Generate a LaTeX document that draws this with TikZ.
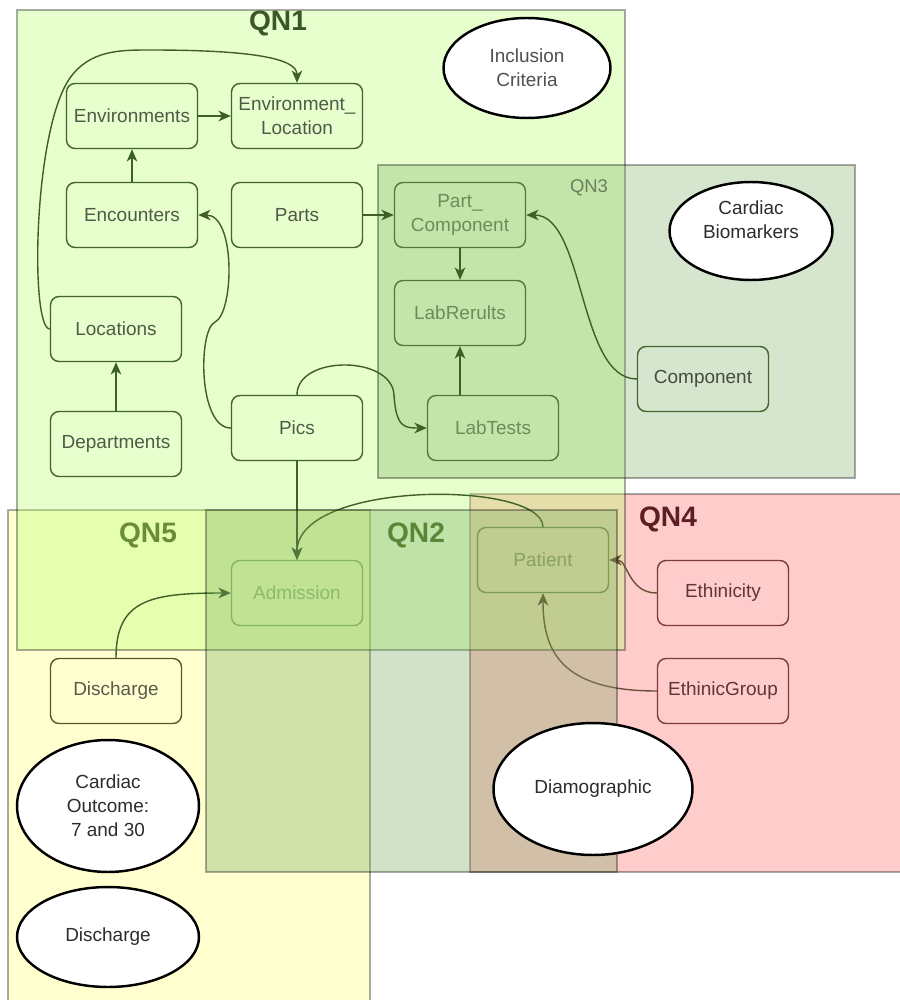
\documentclass[tikz,border=0pt]{standalone}
\usepackage{fontspec}
\setmainfont{Liberation Sans}
\usetikzlibrary{arrows.meta,shapes.geometric}

% zone fills
\definecolor{qnfivefill}{RGB}{255,255,208}
\definecolor{qnfourfill}{RGB}{255,204,204}
\definecolor{qnonefill}{RGB}{187,255,117}
\definecolor{qngreen}{RGB}{118,168,92}
% boxes, text and links
\definecolor{boxline}{RGB}{65,100,45}
\definecolor{boxtext}{RGB}{80,90,72}
\definecolor{softtext}{RGB}{105,128,92}
\definecolor{edgecol}{RGB}{62,96,40}
\definecolor{ethedge}{RGB}{105,82,52}
\definecolor{redline}{RGB}{125,58,58}
\definecolor{redtext}{RGB}{95,55,55}
\definecolor{yelline}{RGB}{88,88,38}
\definecolor{yeltext}{RGB}{90,90,78}
\definecolor{admline}{RGB}{140,188,105}
\definecolor{admtext}{RGB}{150,196,118}
\definecolor{patline}{RGB}{128,150,78}
\definecolor{pattext}{RGB}{145,160,100}
\definecolor{ovaltext}{RGB}{45,45,45}

\tikzset{
  zone/.style={draw=black, draw opacity=0.33, line width=1.3pt},
  box/.style={draw=boxline, line width=0.8pt, rounded corners=0.17cm,
    minimum width=2.62cm, minimum height=1.3cm, align=center, text=boxtext,
    font=\fontsize{10.8}{13.6}\selectfont, inner sep=1pt},
  oval/.style={ellipse, draw=black, line width=1.4pt, fill=white, align=center,
    text=ovaltext, font=\fontsize{10.8}{13.6}\selectfont, inner sep=0pt},
  link/.style={draw=edgecol, line width=0.8pt,
    -{Stealth[length=7pt,width=6pt,inset=2pt]}},
  zonelabel/.style={font=\fontsize{16}{18}\selectfont\bfseries, inner sep=0pt},
}

\begin{document}
\begin{tikzpicture}[x=0.02cm,y=-0.02cm]
\useasboundingbox (0,0) rectangle (899,1000);

% ---- opaque zones underneath
\path[zone, fill=qnfivefill] (8,510) rectangle (370,1010);
\path[zone, fill=qnfourfill] (470,494) rectangle (910,872);

% ---- QN1 zone
\path[zone, fill=qnonefill, fill opacity=0.37] (17,10) rectangle (625,650);

% ---- tables of QN1
\node[box] (env)    at (132,116) {Environments};
\node[box] (envloc) at (297,116) {Environment\_\\Location};
\node[box] (enc)    at (132,215) {Encounters};
\node[box] (parts)  at (297,215) {Parts};
\node[box] (loc)    at (116,329) {Locations};
\node[box] (dep)    at (116,444) {Departments};
\node[box] (pics)   at (297,428) {Pics};

% ---- tables of QN3 lying under the zone
\node[box, text=softtext] (pc) at (460,215) {Part\_\\Component};
\node[box, text=softtext] (lr) at (460,313) {LabRerults};
\node[box, text=softtext] (lt) at (493,428) {LabTests};

% ---- QN3 zone
\path[zone, fill=qngreen, fill opacity=0.3] (378,165) rectangle (855,478);
\node[font=\fontsize{10.5}{12}\selectfont, text=softtext] (qnthree) at (589,188) {QN3};
\node[box, text={rgb,255:red,70;green,76;blue,64}] (comp) at (703,379) {Component};

% ---- links of QN1 / QN3
\draw[link] (env) -- (envloc);
\draw[link] (enc) -- (env);
\draw[link] (parts) -- (pc);
\draw[link] (dep) -- (loc);
\draw[link] (pc) -- (lr);
\draw[link] (lt.north -| lr.south) -- (lr);
\draw[link] (loc.west) .. controls (30,329) and (33,130) .. (70,78)
  .. controls (90,50) and (120,50) .. (150,50)
  .. controls (250,50) and (297,58) .. (envloc.north);
\draw[link] (pics.west) .. controls (198,428) and (198,330) .. (215,322)
  .. controls (234,313) and (236,215) .. (enc.east);
\draw[link] (pics.north) .. controls (297,355) and (392,355) .. (394,395)
  .. controls (396,428) and (405,428) .. (lt.west);
\draw[link] (comp.west) .. controls (578,379) and (585,215) .. (pc.east);

% ---- tables of QN2, QN4, QN5
\node[box, draw=admline, text=admtext] (adm) at (297,593) {Admission};
\node[box, draw=patline, text=pattext] (pat) at (543,560) {Patient};
\node[box, draw=redline, text=redtext] (eth) at (723,593) {Ethinicity};
\node[box, draw=redline, text=redtext] (eg)  at (723,691) {EthinicGroup};
\node[box, draw=yelline, text=yeltext] (dis) at (116,691) {Discharge};

\draw[link] (pics) -- (adm);
\draw[link] (pat.north) .. controls (542,480) and (297,480) .. (adm.north);
\draw[link] (dis.north) .. controls (116,600) and (150,593) .. (adm.west);
\draw[link, draw=ethedge] (eth.west) .. controls (628,593) and (628,560) .. (pat.east);
\draw[link, draw=ethedge] (eg.west) .. controls (560,691) and (543,650) .. (pat.south);

% ---- QN2 zone on top
\path[zone, fill=qngreen, fill opacity=0.33] (206,510) rectangle (617,872);

% ---- zone titles
\node[zonelabel, text={rgb,255:red,58;green,88;blue,38}] (qnone) at (278,23) {QN1};
\node[zonelabel, text={rgb,255:red,104;green,140;blue,56}] (qnfive) at (148,535) {QN5};
\node[zonelabel, text={rgb,255:red,90;green,134;blue,56}] (qntwo) at (416,535) {QN2};
\node[zonelabel, text={rgb,255:red,92;green,30;blue,32}] (qnfour) at (668,519) {QN4};

% ---- criteria ovals
\node[oval, minimum width=3.34cm, minimum height=2.0cm, text={rgb,255:red,80;green,80;blue,80}]
  (incl) at (527,68) {Inclusion\\Criteria};
\node[oval, minimum width=3.26cm, minimum height=1.96cm,
  label={[align=center, text=ovaltext, font=\fontsize{10.8}{13.6}\selectfont, yshift=6.5pt]center:Cardiac\\Biomarkers}]
  (biom) at (751,231) {};
\node[oval, minimum width=3.98cm, minimum height=2.64cm] (demo) at (593,789) {Diamographic};
\node[oval, minimum width=3.64cm, minimum height=2.64cm] (outc) at (108,806) {Cardiac\\Outcome:\\7 and 30};
\node[oval, minimum width=3.64cm, minimum height=2.0cm] (disc) at (108,937) {Discharge};

\end{tikzpicture}
\end{document}
